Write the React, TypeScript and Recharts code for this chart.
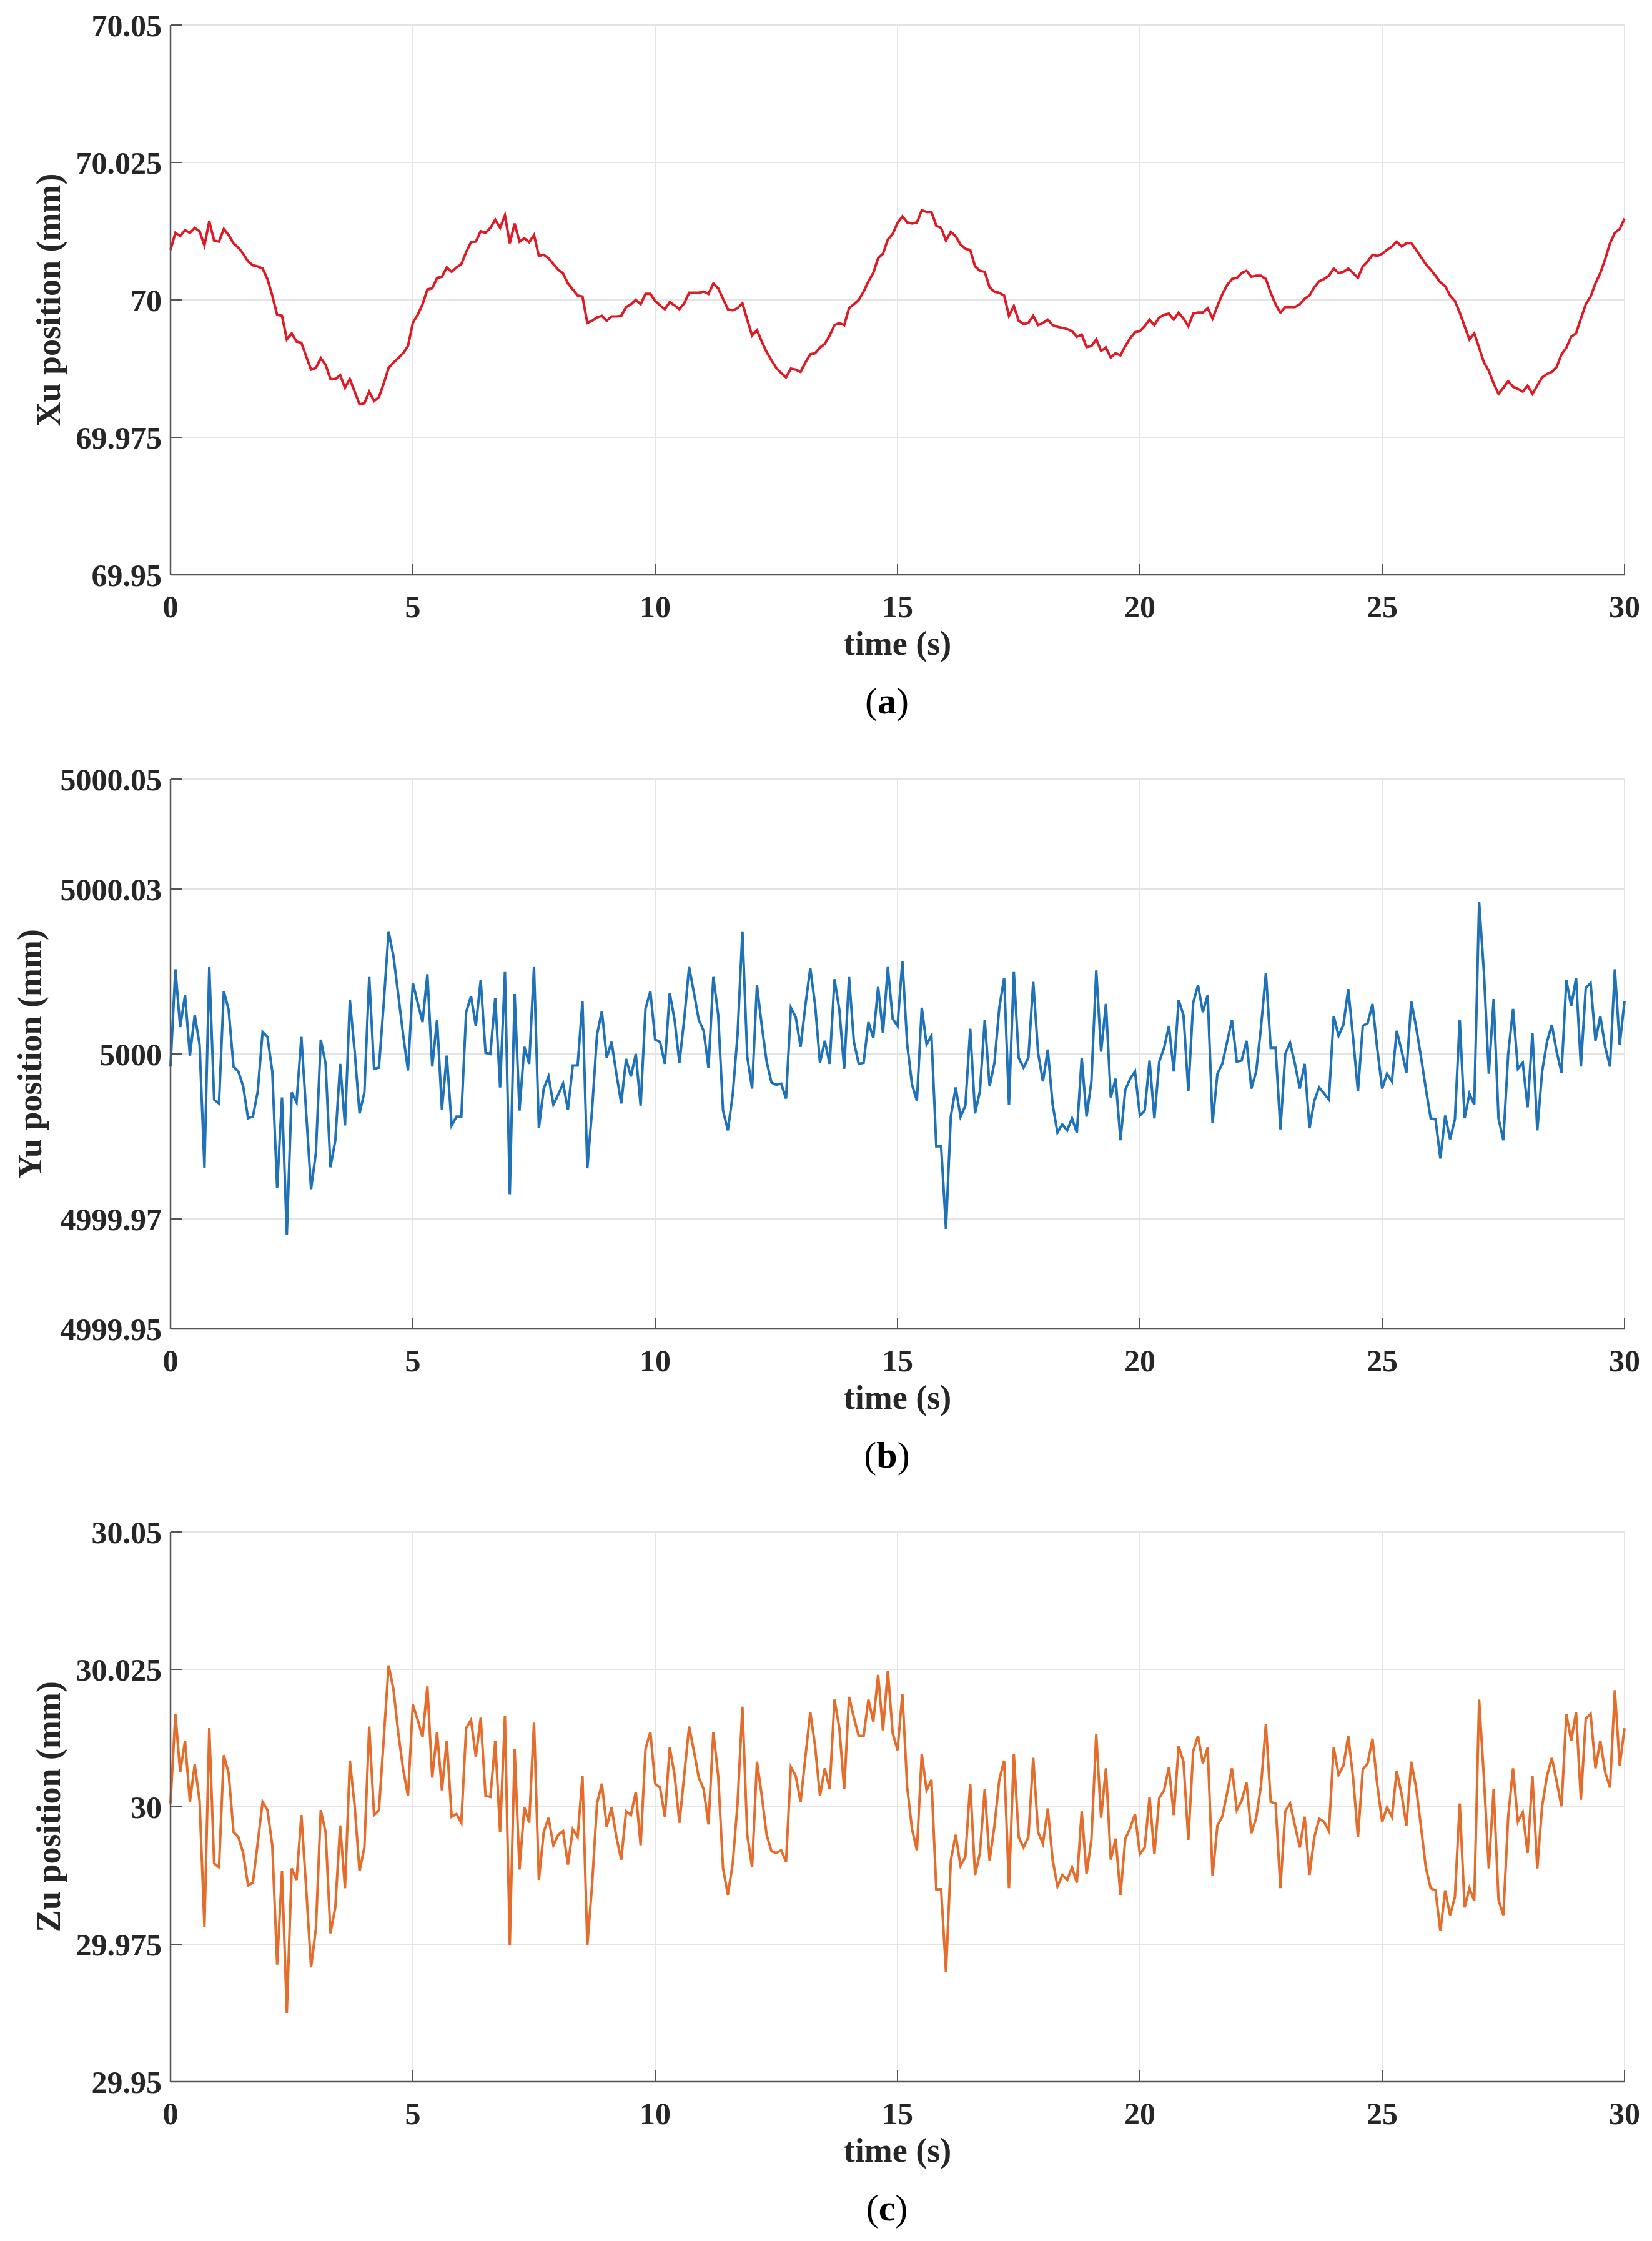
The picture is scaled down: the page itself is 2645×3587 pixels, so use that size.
import React from "react";
import { CartesianGrid, Label, Line, LineChart, XAxis, YAxis } from "recharts";

// sample times (s), one sample every 0.1 s
const time = [
  0, 0.1, 0.2, 0.3, 0.4, 0.5, 0.6, 0.7, 0.8, 0.9,
  1, 1.1, 1.2, 1.3, 1.4, 1.5, 1.6, 1.7, 1.8, 1.9,
  2, 2.1, 2.2, 2.3, 2.4, 2.5, 2.6, 2.7, 2.8, 2.9,
  3, 3.1, 3.2, 3.3, 3.4, 3.5, 3.6, 3.7, 3.8, 3.9,
  4, 4.1, 4.2, 4.3, 4.4, 4.5, 4.6, 4.7, 4.8, 4.9,
  5, 5.1, 5.2, 5.3, 5.4, 5.5, 5.6, 5.7, 5.8, 5.9,
  6, 6.1, 6.2, 6.3, 6.4, 6.5, 6.6, 6.7, 6.8, 6.9,
  7, 7.1, 7.2, 7.3, 7.4, 7.5, 7.6, 7.7, 7.8, 7.9,
  8, 8.1, 8.2, 8.3, 8.4, 8.5, 8.6, 8.7, 8.8, 8.9,
  9, 9.1, 9.2, 9.3, 9.4, 9.5, 9.6, 9.7, 9.8, 9.9,
  10, 10.1, 10.2, 10.3, 10.4, 10.5, 10.6, 10.7, 10.8, 10.9,
  11, 11.1, 11.2, 11.3, 11.4, 11.5, 11.6, 11.7, 11.8, 11.9,
  12, 12.1, 12.2, 12.3, 12.4, 12.5, 12.6, 12.7, 12.8, 12.9,
  13, 13.1, 13.2, 13.3, 13.4, 13.5, 13.6, 13.7, 13.8, 13.9,
  14, 14.1, 14.2, 14.3, 14.4, 14.5, 14.6, 14.7, 14.8, 14.9,
  15, 15.1, 15.2, 15.3, 15.4, 15.5, 15.6, 15.7, 15.8, 15.9,
  16, 16.1, 16.2, 16.3, 16.4, 16.5, 16.6, 16.7, 16.8, 16.9,
  17, 17.1, 17.2, 17.3, 17.4, 17.5, 17.6, 17.7, 17.8, 17.9,
  18, 18.1, 18.2, 18.3, 18.4, 18.5, 18.6, 18.7, 18.8, 18.9,
  19, 19.1, 19.2, 19.3, 19.4, 19.5, 19.6, 19.7, 19.8, 19.9,
  20, 20.1, 20.2, 20.3, 20.4, 20.5, 20.6, 20.7, 20.8, 20.9,
  21, 21.1, 21.2, 21.3, 21.4, 21.5, 21.6, 21.7, 21.8, 21.9,
  22, 22.1, 22.2, 22.3, 22.4, 22.5, 22.6, 22.7, 22.8, 22.9,
  23, 23.1, 23.2, 23.3, 23.4, 23.5, 23.6, 23.7, 23.8, 23.9,
  24, 24.1, 24.2, 24.3, 24.4, 24.5, 24.6, 24.7, 24.8, 24.9,
  25, 25.1, 25.2, 25.3, 25.4, 25.5, 25.6, 25.7, 25.8, 25.9,
  26, 26.1, 26.2, 26.3, 26.4, 26.5, 26.6, 26.7, 26.8, 26.9,
  27, 27.1, 27.2, 27.3, 27.4, 27.5, 27.6, 27.7, 27.8, 27.9,
  28, 28.1, 28.2, 28.3, 28.4, 28.5, 28.6, 28.7, 28.8, 28.9,
  29, 29.1, 29.2, 29.3, 29.4, 29.5, 29.6, 29.7, 29.8, 29.9,
  30,
];

// (a) Xu position, mm
const xuPosition = [
  70.0091, 70.0122, 70.0116, 70.0127, 70.0122, 70.0131, 70.0125, 70.0099, 70.0143, 70.0108,
  70.0106, 70.0129, 70.0118, 70.0103, 70.0095, 70.0084, 70.007, 70.0063, 70.0061, 70.0057,
  70.0038, 70.0008, 69.9973, 69.9971, 69.9928, 69.9939, 69.9924, 69.9922, 69.9897, 69.9873,
  69.9876, 69.9894, 69.9882, 69.9856, 69.9856, 69.9863, 69.984, 69.9856, 69.9833, 69.981,
  69.9812, 69.9833, 69.9816, 69.9823, 69.9848, 69.9876, 69.9886, 69.9894, 69.9903, 69.9916,
  69.9958, 69.9973, 69.9992, 70.0019, 70.0021, 70.004, 70.0042, 70.0059, 70.0051, 70.0059,
  70.0065, 70.0087, 70.0105, 70.0106, 70.0125, 70.0122, 70.0131, 70.0146, 70.0131, 70.0154,
  70.0103, 70.0139, 70.0106, 70.0112, 70.0105, 70.0118, 70.008, 70.0082, 70.0076, 70.0065,
  70.0055, 70.0048, 70.003, 70.0019, 70.0008, 70.0006, 69.9958, 69.9962, 69.9968, 69.9971,
  69.9962, 69.997, 69.997, 69.9971, 69.9987, 69.9992, 70.0, 69.9992, 70.0011, 70.0011,
  69.9998, 69.999, 69.9983, 69.9996, 69.999, 69.9983, 69.9994, 70.0013, 70.0013, 70.0013,
  70.0015, 70.0011, 70.003, 70.0021, 70.0002, 69.9983, 69.9981, 69.9985, 69.9994, 69.9964,
  69.9935, 69.9945, 69.9924, 69.9905, 69.989, 69.9876, 69.9867, 69.9859, 69.9875, 69.9873,
  69.9869, 69.9886, 69.9901, 69.9903, 69.9913, 69.992, 69.9935, 69.9954, 69.9958, 69.9954,
  69.9985, 69.9992, 70.0, 70.0015, 70.0034, 70.0049, 70.0076, 70.0084, 70.011, 70.012,
  70.014, 70.0152, 70.0141, 70.0139, 70.0141, 70.0163, 70.016, 70.016, 70.0135, 70.0131,
  70.0108, 70.0124, 70.0116, 70.0101, 70.0093, 70.0091, 70.0061, 70.0053, 70.0051, 70.0023,
  70.0015, 70.0013, 70.0008, 69.9971, 69.9989, 69.9962, 69.9956, 69.9958, 69.9971, 69.9954,
  69.9958, 69.9964, 69.9954, 69.9951, 69.9949, 69.9947, 69.9943, 69.9933, 69.9937, 69.9914,
  69.9916, 69.9928, 69.9907, 69.9913, 69.9895, 69.9903, 69.9899, 69.9916, 69.993, 69.9941,
  69.9943, 69.9952, 69.9964, 69.9954, 69.9968, 69.9973, 69.9975, 69.9964, 69.9977, 69.9966,
  69.9952, 69.9975, 69.9977, 69.9977, 69.9985, 69.9966, 69.9989, 70.001, 70.0027, 70.0038,
  70.004, 70.0049, 70.0053, 70.0042, 70.0044, 70.0044, 70.0038, 70.0013, 69.9992, 69.9977,
  69.9987, 69.9987, 69.9987, 69.9992, 70.0002, 70.0008, 70.0023, 70.0034, 70.0038, 70.0044,
  70.0057, 70.0049, 70.0051, 70.0057, 70.0049, 70.004, 70.0061, 70.007, 70.0082, 70.008,
  70.0084, 70.0091, 70.0097, 70.0106, 70.0097, 70.0103, 70.0103, 70.0091, 70.0078, 70.0065,
  70.0055, 70.0044, 70.0032, 70.0025, 70.0008, 69.9998, 69.9977, 69.9952, 69.9928, 69.9939,
  69.9913, 69.9886, 69.9871, 69.9848, 69.9829, 69.984, 69.9852, 69.9842, 69.9838, 69.9833,
  69.9844, 69.9829, 69.9844, 69.9859, 69.9865, 69.9869, 69.9878, 69.9901, 69.9913, 69.9933,
  69.9939, 69.9966, 69.9992, 70.0006, 70.003, 70.0049, 70.0074, 70.0103, 70.0122, 70.0129,
  70.0148,
];

// (b) Yu position, mm
const yuPosition = [
  4999.9977, 5000.0154, 5000.0049, 5000.0107, 4999.9997, 5000.0071, 5000.0017, 4999.9792, 5000.0158, 4999.9917,
  4999.991, 5000.0114, 5000.008, 4999.9977, 4999.9968, 4999.9941, 4999.9883, 4999.9886, 4999.9932, 5000.004,
  5000.0031, 4999.9968, 4999.9756, 4999.9921, 4999.9671, 4999.993, 4999.9912, 5000.0031, 4999.9892, 4999.9754,
  4999.9821, 5000.0026, 4999.9982, 4999.9794, 4999.9843, 4999.9982, 4999.987, 5000.0098, 5000.0004, 4999.9892,
  4999.993, 5000.014, 4999.9973, 4999.9975, 5000.0093, 5000.0223, 5000.0178, 5000.0107, 5000.0035, 4999.997,
  5000.0129, 5000.0093, 5000.0058, 5000.0145, 4999.9977, 5000.0062, 4999.9899, 4999.9997, 4999.987, 4999.9886,
  4999.9886, 5000.0076, 5000.0105, 5000.0051, 5000.0134, 5000.0002, 5000.0, 5000.0102, 4999.9939, 5000.0149,
  4999.9745, 5000.0109, 4999.9897, 5000.0013, 4999.9982, 5000.0158, 4999.9865, 4999.9937, 4999.9959, 4999.9908,
  4999.9926, 4999.9946, 4999.9899, 4999.9979, 4999.9979, 5000.0096, 4999.9792, 4999.9901, 5000.0035, 5000.0078,
  4999.9993, 5000.0022, 4999.9964, 4999.991, 4999.9991, 4999.9959, 5000.0, 4999.9906, 5000.0082, 5000.0114,
  5000.0026, 5000.0022, 4999.9982, 5000.0111, 5000.0062, 4999.9984, 5000.0064, 5000.0158, 5000.0111, 5000.0062,
  5000.0042, 4999.9975, 5000.014, 5000.0071, 4999.9897, 4999.9861, 4999.9926, 5000.0035, 5000.0223, 4999.9995,
  4999.9937, 5000.0125, 5000.0051, 4999.9986, 4999.9948, 4999.9944, 4999.9946, 4999.9919, 5000.0084, 5000.0067,
  5000.0013, 5000.0089, 5000.0156, 5000.0089, 4999.9984, 5000.0024, 4999.9982, 5000.0136, 5000.008, 4999.9973,
  5000.014, 5000.0022, 4999.9982, 4999.9984, 5000.0058, 5000.0029, 5000.0122, 5000.0038, 5000.0158, 5000.0064,
  5000.0051, 5000.0169, 5000.0017, 4999.9944, 4999.9915, 5000.0084, 5000.0017, 5000.0033, 4999.9832, 4999.9832,
  4999.9682, 4999.9886, 4999.9939, 4999.9886, 4999.9906, 5000.0046, 4999.9892, 4999.9932, 5000.0062, 4999.9941,
  4999.9984, 5000.0084, 5000.0138, 4999.9908, 5000.0149, 4999.9993, 4999.9975, 4999.9993, 5000.0131, 5000.0002,
  4999.995, 5000.0008, 4999.9908, 4999.9857, 4999.9872, 4999.9861, 4999.9883, 4999.9857, 4999.9993, 4999.9886,
  4999.995, 5000.0152, 5000.0004, 5000.0091, 4999.9921, 4999.9955, 4999.9843, 4999.9935, 4999.9955, 4999.9968,
  4999.9888, 4999.9897, 4999.9988, 4999.9883, 4999.9986, 5000.0011, 5000.0051, 4999.9968, 5000.0098, 5000.0071,
  4999.9932, 5000.0093, 5000.0125, 5000.0076, 5000.0107, 4999.9874, 4999.9964, 4999.9982, 5000.0022, 5000.0062,
  4999.9986, 4999.9988, 5000.0024, 4999.9937, 4999.9968, 5000.0049, 5000.0147, 5000.0011, 5000.0011, 4999.9863,
  5000.0, 5000.002, 4999.9982, 4999.9937, 4999.9982, 4999.9865, 4999.9915, 4999.9939, 4999.9928, 4999.9917,
  5000.0069, 5000.0033, 5000.0053, 5000.0118, 5000.0029, 4999.9932, 5000.0051, 5000.0056, 5000.0091, 5000.0008,
  4999.9937, 4999.9964, 4999.995, 5000.0042, 5000.0006, 4999.9966, 5000.0096, 5000.0049, 4999.9995, 4999.9937,
  4999.9883, 4999.9881, 4999.981, 4999.9888, 4999.9845, 4999.9881, 5000.0062, 4999.9883, 4999.9928, 4999.9908,
  5000.0277, 5000.0147, 4999.9964, 5000.01, 4999.9883, 4999.9843, 5000.0, 5000.0082, 4999.9973, 4999.9984,
  4999.9903, 5000.0038, 4999.9861, 4999.9968, 5000.0022, 5000.0053, 5000.0004, 4999.9966, 5000.0134, 5000.0087,
  5000.0138, 4999.9977, 5000.012, 5000.0129, 5000.0024, 5000.0069, 5000.0013, 4999.9977, 5000.0154, 5000.0017,
  5000.0096,
];

// (c) Zu position, mm
const zuPosition = [
  30.0006, 30.0169, 30.0063, 30.012, 30.0009, 30.0077, 30.0011, 29.9781, 30.0143, 29.9897,
  29.989, 30.0094, 30.0061, 29.9954, 29.9945, 29.9916, 29.9857, 29.9862, 29.9935, 30.0009,
  29.9994, 29.993, 29.9713, 29.9883, 29.9625, 29.9888, 29.9867, 29.9985, 29.985, 29.9708,
  29.9779, 29.9994, 29.9954, 29.977, 29.9817, 29.9966, 29.9852, 30.0084, 30.0001, 29.9883,
  29.9926, 30.0146, 29.9985, 29.9994, 30.0124, 30.0257, 30.0214, 30.0134, 30.0068, 30.002,
  30.0186, 30.0158, 30.0127, 30.0219, 30.0053, 30.0136, 30.003, 30.012, 29.9982, 29.9987,
  29.9971, 30.0143, 30.0158, 30.0091, 30.0162, 30.002, 30.0018, 30.012, 29.9954, 30.0165,
  29.9748, 30.0105, 29.9886, 29.9999, 29.9971, 30.0153, 29.9867, 29.9954, 29.998, 29.993,
  29.9949, 29.9956, 29.9895, 29.9959, 29.9945, 30.0056, 29.9748, 29.986, 30.0006, 30.0042,
  29.9964, 29.9999, 29.9945, 29.9904, 29.9992, 29.9985, 30.0027, 29.993, 30.0105, 30.0136,
  30.0042, 30.0035, 29.9982, 30.0108, 30.0058, 29.9971, 30.0058, 30.0146, 30.0101, 30.0053,
  30.0032, 29.9968, 30.0136, 30.0056, 29.9888, 29.984, 29.9897, 30.0006, 30.0182, 29.9949,
  29.989, 30.0082, 30.002, 29.9949, 29.9919, 29.9916, 29.9921, 29.99, 30.0072, 30.0056,
  30.0009, 30.0091, 30.0172, 30.011, 30.002, 30.007, 30.0032, 30.0195, 30.0143, 30.0032,
  30.02, 30.0162, 30.0129, 30.0129, 30.0195, 30.0155, 30.024, 30.0139, 30.0247, 30.0134,
  30.0103, 30.0205, 30.0035, 29.9959, 29.9921, 30.0096, 30.003, 30.0049, 29.985, 29.985,
  29.9699, 29.9902, 29.9949, 29.9893, 29.9909, 30.0042, 29.9876, 29.9916, 30.0032, 29.9902,
  29.9966, 30.0049, 30.0084, 29.9852, 30.0096, 29.9945, 29.9926, 29.9945, 30.0089, 29.9954,
  29.9933, 29.9997, 29.9904, 29.9855, 29.9876, 29.9867, 29.989, 29.9862, 29.9992, 29.9878,
  29.994, 30.0132, 29.998, 30.007, 29.9904, 29.9942, 29.984, 29.9942, 29.9961, 29.9987,
  29.9914, 29.9926, 30.0018, 29.9914, 30.0016, 30.003, 30.0072, 29.9985, 30.011, 30.0082,
  29.994, 30.0101, 30.0129, 30.0079, 30.0108, 29.9874, 29.9966, 29.9982, 30.0025, 30.007,
  29.9994, 30.0011, 30.0044, 29.9952, 29.998, 30.0039, 30.015, 30.0009, 30.0006, 29.9852,
  29.9992, 30.0006, 29.9966, 29.9926, 29.9982, 29.9876, 29.9945, 29.9978, 29.9973, 29.9956,
  30.0108, 30.0058, 30.0075, 30.0129, 30.0053, 29.9945, 30.0068, 30.0079, 30.0124, 30.0039,
  29.9973, 29.9999, 29.9982, 30.0065, 30.0023, 29.9966, 30.0082, 30.0035, 29.9964, 29.989,
  29.9852, 29.9848, 29.9774, 29.9848, 29.9803, 29.9836, 30.0006, 29.9817, 29.9852, 29.9829,
  30.0195, 30.0051, 29.9888, 30.0032, 29.9831, 29.9803, 29.9982, 30.007, 29.9973, 29.999,
  29.9916, 30.0056, 29.9888, 30.0001, 30.0056, 30.0089, 30.0046, 30.0001, 30.0169, 30.012,
  30.0172, 30.0013, 30.016, 30.0169, 30.007, 30.012, 30.0063, 30.0035, 30.0212, 30.0075,
  30.0143,
];

const timeTicks = [0, 5, 10, 15, 20, 25, 30];
const xuTicks = [69.95, 69.975, 70, 70.025, 70.05];
const yuTicks = [4999.95, 4999.97, 5000, 5000.03, 5000.05];
const zuTicks = [29.95, 29.975, 30, 30.025, 30.05];

const W = 2645;
const H = 1170;
const SERIF = '"Liberation Serif", "Times New Roman", serif';
const INK = "#262626";
const FRAME = "#555555";

const tickFont = { fontFamily: SERIF, fontWeight: 700, fontSize: 50, fill: INK };
const frameLine = { stroke: FRAME, strokeWidth: 2.5 };
const tickMark = { stroke: FRAME, strokeWidth: 2 };

function Panel({ top, values, yTicks, color, yTitle, yTitleX, tag }: any) {
  const data = time.map((t, i) => ({ t, v: values[i] }));
  const domain = [yTicks[0], yTicks[yTicks.length - 1]];

  const xTitle = (props: any) => {
    const { x, y, width } = props.viewBox;
    const cx = x + width / 2;
    return (
      <g>
        <text x={cx} y={y + 128} textAnchor="middle" fontFamily={SERIF} fontWeight={700} fontSize={54} fill={INK}>
          time (s)
        </text>
        <text x={cx - 17} y={y + 222} textAnchor="middle" fontFamily={SERIF} fontSize={60} fill="#000">
          (<tspan fontWeight={700}>{tag}</tspan>)
        </text>
      </g>
    );
  };

  const yTitleContent = (props: any) => {
    const { y, height } = props.viewBox;
    const cy = y + height / 2;
    return (
      <text
        x={yTitleX}
        y={cy}
        transform={`rotate(-90, ${yTitleX}, ${cy})`}
        textAnchor="middle"
        dominantBaseline="central"
        fontFamily={SERIF}
        fontWeight={700}
        fontSize={54}
        fill={INK}
      >
        {yTitle}
      </text>
    );
  };

  return (
    <div style={{ position: "absolute", left: 0, top, width: W, height: H }}>
      <LineChart width={W} height={H} data={data} margin={{ top: 40, right: 44, bottom: 230, left: 253 }}>
        <CartesianGrid stroke="#e4e4e4" strokeWidth={2} />
        <XAxis
          dataKey="t"
          type="number"
          domain={[0, 30]}
          ticks={timeTicks}
          interval={0}
          height={20}
          tickSize={-18}
          tickMargin={50}
          tick={tickFont}
          axisLine={frameLine}
          tickLine={tickMark}
        >
          <Label content={xTitle} />
        </XAxis>
        <XAxis
          xAxisId="top"
          orientation="top"
          type="number"
          domain={[0, 30]}
          ticks={timeTicks}
          interval={0}
          height={0}
          tickSize={-18}
          tick={false}
          axisLine={frameLine}
          tickLine={tickMark}
        />
        <YAxis
          type="number"
          domain={domain}
          ticks={yTicks}
          interval={0}
          width={20}
          tickSize={-18}
          tickMargin={32}
          tick={tickFont}
          axisLine={frameLine}
          tickLine={tickMark}
        >
          <Label content={yTitleContent} />
        </YAxis>
        <YAxis
          yAxisId="right"
          orientation="right"
          type="number"
          domain={domain}
          ticks={yTicks}
          interval={0}
          width={0}
          tickSize={-18}
          tick={false}
          axisLine={frameLine}
          tickLine={tickMark}
        />
        <Line
          type="linear"
          dataKey="v"
          stroke={color}
          strokeWidth={4}
          dot={false}
          isAnimationActive={false}
        />
      </LineChart>
    </div>
  );
}

export default function App() {
  return (
    <div style={{ position: "absolute", left: 0, top: 0, width: W, height: 3587, background: "#fff", overflow: "hidden" }}>
      <Panel top={0} values={xuPosition} yTicks={xuTicks} color="#de1a24" yTitle="Xu position (mm)" yTitleX={78} tag="a" />
      <Panel top={1207} values={yuPosition} yTicks={yuTicks} color="#1f72b8" yTitle="Yu position (mm)" yTitleX={48} tag="b" />
      <Panel top={2412} values={zuPosition} yTicks={zuTicks} color="#e56d2c" yTitle="Zu position (mm)" yTitleX={78} tag="c" />
    </div>
  );
}
